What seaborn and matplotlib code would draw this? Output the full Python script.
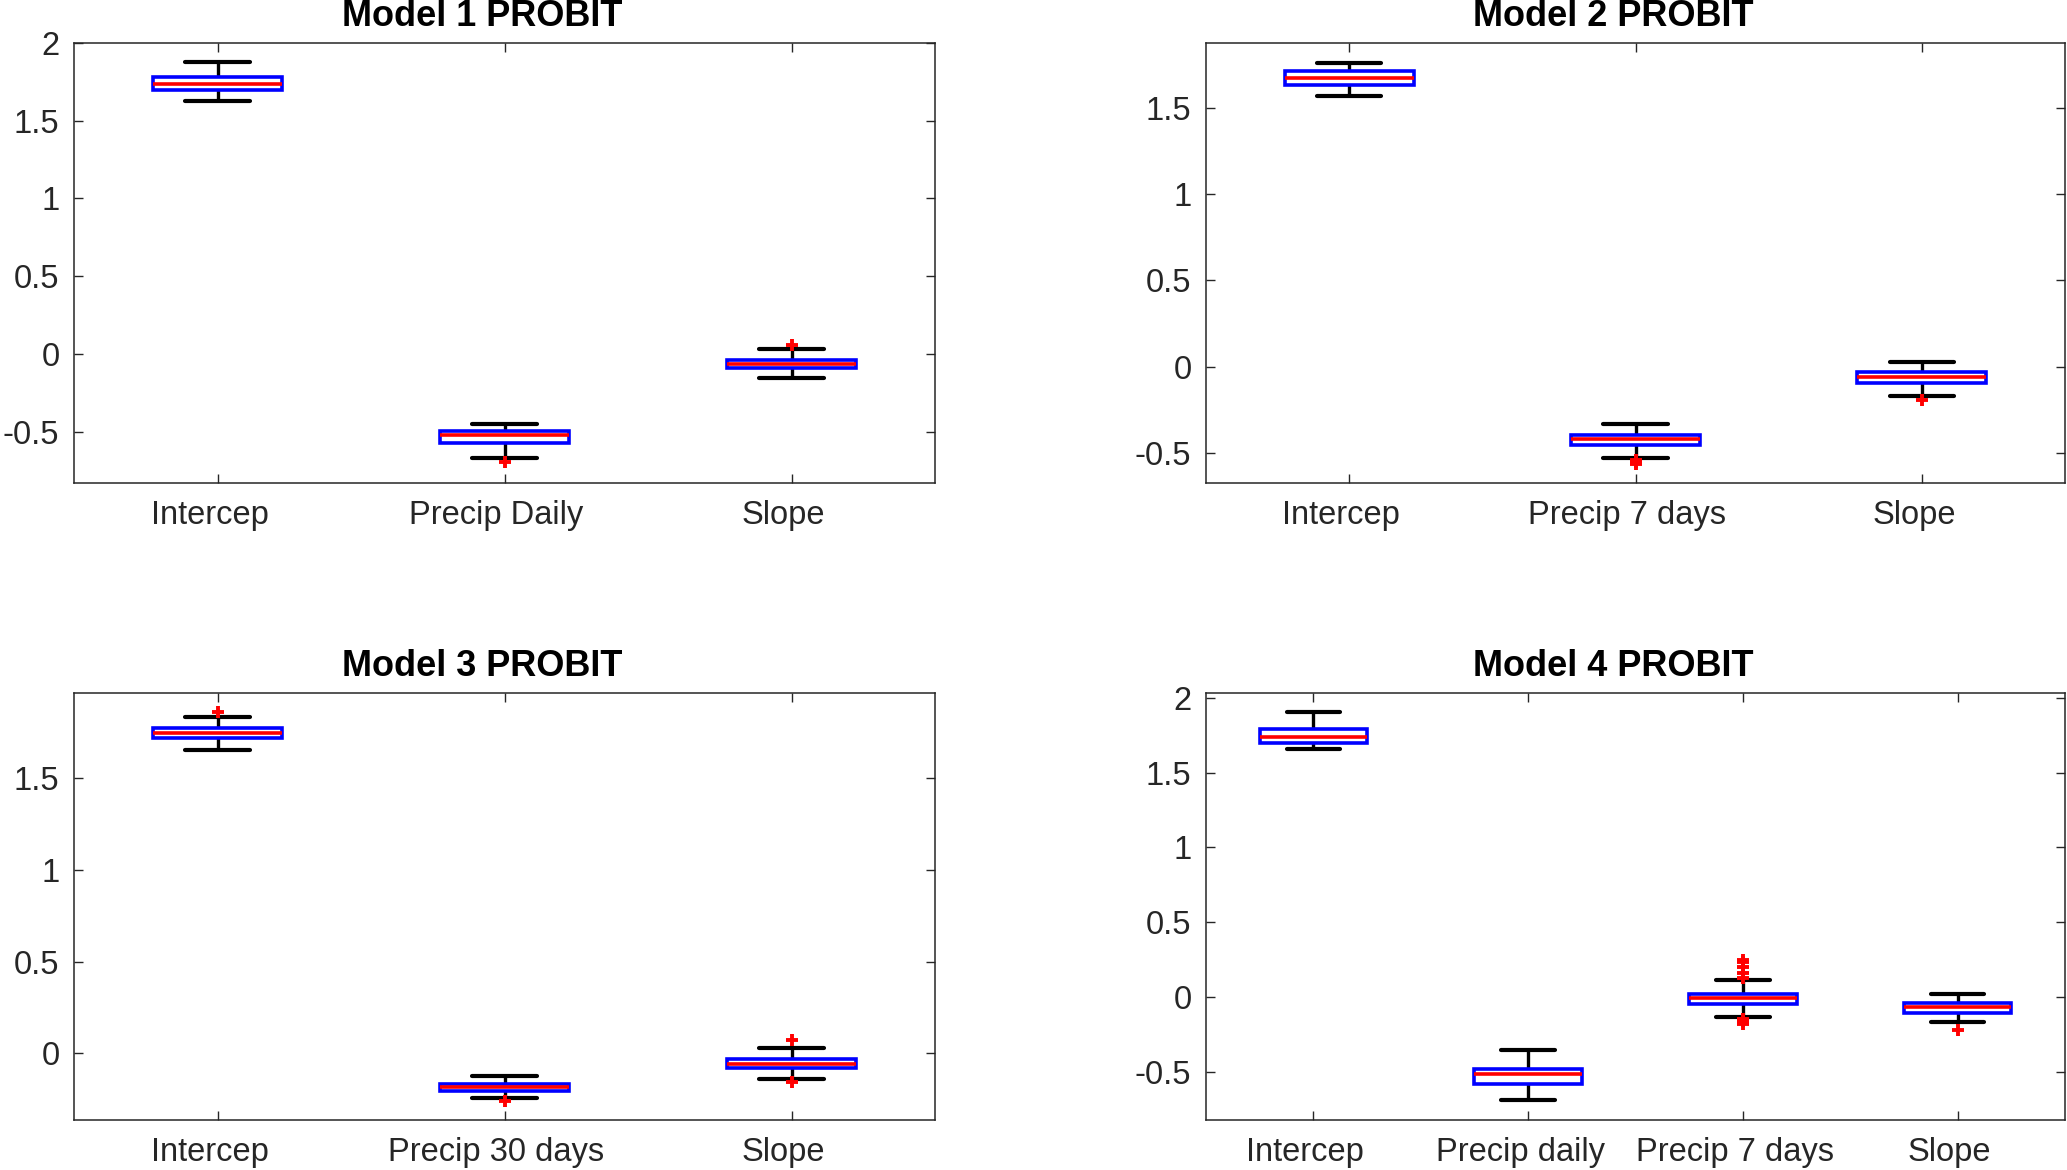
import numpy as np
import pandas as pd
import matplotlib
matplotlib.use("Agg")
import matplotlib.pyplot as plt
from matplotlib.transforms import ScaledTranslation
import seaborn as sns

# ---------------- data ----------------
# each box: [lower whisker, Q1, median, Q3, upper whisker]
m1_title = "Model 1 PROBIT"
m1_cats = ["Intercep", "Precip Daily", "Slope"]
m1_stats = [[1.630, 1.700, 1.738, 1.779, 1.875],
            [-0.668, -0.572, -0.524, -0.493, -0.452],
            [-0.156, -0.091, -0.063, -0.036, 0.031]]
m1_out_cat = ["Precip Daily", "Slope"]
m1_out_val = [-0.697, 0.060]
m1_ylim = (-0.83, 2.0)
m1_yticks = [-0.5, 0, 0.5, 1, 1.5, 2]
m1_yticklabels = ["-0.5", "0", "0.5", "1", "1.5", "2"]

m2_title = "Model 2 PROBIT"
m2_cats = ["Intercep", "Precip 7 days", "Slope"]
m2_stats = [[1.569, 1.634, 1.673, 1.710, 1.760],
            [-0.528, -0.455, -0.422, -0.396, -0.335],
            [-0.171, -0.095, -0.063, -0.032, 0.026]]
m2_out_cat = ["Precip 7 days", "Precip 7 days", "Precip 7 days", "Slope"]
m2_out_val = [-0.540, -0.555, -0.567, -0.193]
m2_ylim = (-0.675, 1.875)
m2_yticks = [-0.5, 0, 0.5, 1, 1.5]
m2_yticklabels = ["-0.5", "0", "0.5", "1", "1.5"]

m3_title = "Model 3 PROBIT"
m3_cats = ["Intercep", "Precip 30 days", "Slope"]
m3_stats = [[1.654, 1.717, 1.746, 1.774, 1.835],
            [-0.246, -0.208, -0.185, -0.167, -0.124],
            [-0.138, -0.079, -0.057, -0.033, 0.031]]
m3_out_cat = ["Intercep", "Precip 30 days", "Slope", "Slope"]
m3_out_val = [1.864, -0.258, 0.073, -0.155]
m3_ylim = (-0.364, 1.965)
m3_yticks = [0, 0.5, 1, 1.5]
m3_yticklabels = ["0", "0.5", "1", "1.5"]

m4_title = "Model 4 PROBIT"
m4_cats = ["Intercep", "Precip daily", "Precip 7 days", "Slope"]
m4_stats = [[1.656, 1.698, 1.741, 1.790, 1.905],
            [-0.691, -0.581, -0.516, -0.484, -0.354],
            [-0.135, -0.047, -0.010, 0.020, 0.112],
            [-0.170, -0.110, -0.070, -0.040, 0.017]]
m4_out_cat = ["Precip 7 days"] * 8 + ["Slope"]
m4_out_val = [0.249, 0.232, 0.200, 0.157, 0.125, -0.150, -0.162, -0.182, -0.219]
m4_ylim = (-0.823, 2.032)
m4_yticks = [-0.5, 0, 0.5, 1, 1.5, 2]
m4_yticklabels = ["-0.5", "0", "0.5", "1", "1.5", "2"]

# ---------------- style ----------------
sns.set_style("white")
plt.rcParams["font.family"] = ["Liberation Sans", "DejaVu Sans"]
plt.rcParams["axes.unicode_minus"] = False

W, H = 2067, 1170
fig = plt.figure(figsize=(W / 100, H / 100), dpi=100)

panels = [
    (m1_title, m1_cats, m1_stats, m1_out_cat, m1_out_val, m1_ylim, m1_yticks, m1_yticklabels,
     [74 / W, 1 - 483 / H, 861 / W, 440 / H], 0.45),
    (m2_title, m2_cats, m2_stats, m2_out_cat, m2_out_val, m2_ylim, m2_yticks, m2_yticklabels,
     [1206 / W, 1 - 483 / H, 859 / W, 440 / H], 0.45),
    (m3_title, m3_cats, m3_stats, m3_out_cat, m3_out_val, m3_ylim, m3_yticks, m3_yticklabels,
     [74 / W, 1 - 1120 / H, 861 / W, 427 / H], 0.45),
    (m4_title, m4_cats, m4_stats, m4_out_cat, m4_out_val, m4_ylim, m4_yticks, m4_yticklabels,
     [1206 / W, 1 - 1120 / H, 859 / W, 427 / H], 0.50),
]

spine_col = "#262626"
shift = ScaledTranslation(-8 / 100, 0, fig.dpi_scale_trans)

for (title, cats, stats, out_cat, out_val, ylim, yticks, yticklabels, pos, bw) in panels:
    ax = fig.add_axes(pos)
    box_df = pd.DataFrame({
        "cat": [c for c, s in zip(cats, stats) for _ in s],
        "val": [v for s in stats for v in s],
    })
    sns.boxplot(data=box_df, x="cat", y="val", order=cats, ax=ax,
                whis=(0, 100), width=bw, color="white", linecolor="black",
                linewidth=2.5, showfliers=False,
                boxprops=dict(edgecolor="blue", facecolor="white", linewidth=2.6, zorder=2),
                medianprops=dict(color="red", linewidth=2.6, zorder=3),
                whiskerprops=dict(color="black", linewidth=2.4, zorder=1),
                capprops=dict(color="black", linewidth=3.0, zorder=1))
    out_df = pd.DataFrame({"cat": out_cat, "val": out_val})
    sns.stripplot(data=out_df, x="cat", y="val", order=cats, ax=ax,
                  jitter=False, marker="+", size=9, color="red",
                  edgecolor="red", linewidth=2.8, zorder=4)

    ax.set_xlim(-0.5, len(cats) - 0.5)
    ax.set_ylim(*ylim)
    ax.set_yticks(yticks)
    ax.set_yticklabels(yticklabels)
    ax.set_xticks(range(len(cats)))
    ax.set_xticklabels(cats)
    ax.set_xlabel("")
    ax.set_ylabel("")
    for sp in ax.spines.values():
        sp.set_visible(True)
        sp.set_color(spine_col)
        sp.set_linewidth(1.1)
    ax.tick_params(axis="both", which="major", direction="in", length=6.5, width=1.0,
                   color=spine_col, labelcolor=spine_col, labelsize=23.5,
                   top=True, right=True, bottom=True, left=True,
                   labeltop=False, labelright=False)
    ax.tick_params(axis="x", pad=12.5)
    ax.tick_params(axis="y", pad=10.5)
    for lab in ax.get_xticklabels():
        lab.set_transform(lab.get_transform() + shift)
    ax.set_title(title, fontsize=26, fontweight="bold", color="black", x=0.474, pad=12)
    ax.grid(False)

fig.savefig("out.png", dpi=100, facecolor="white")
